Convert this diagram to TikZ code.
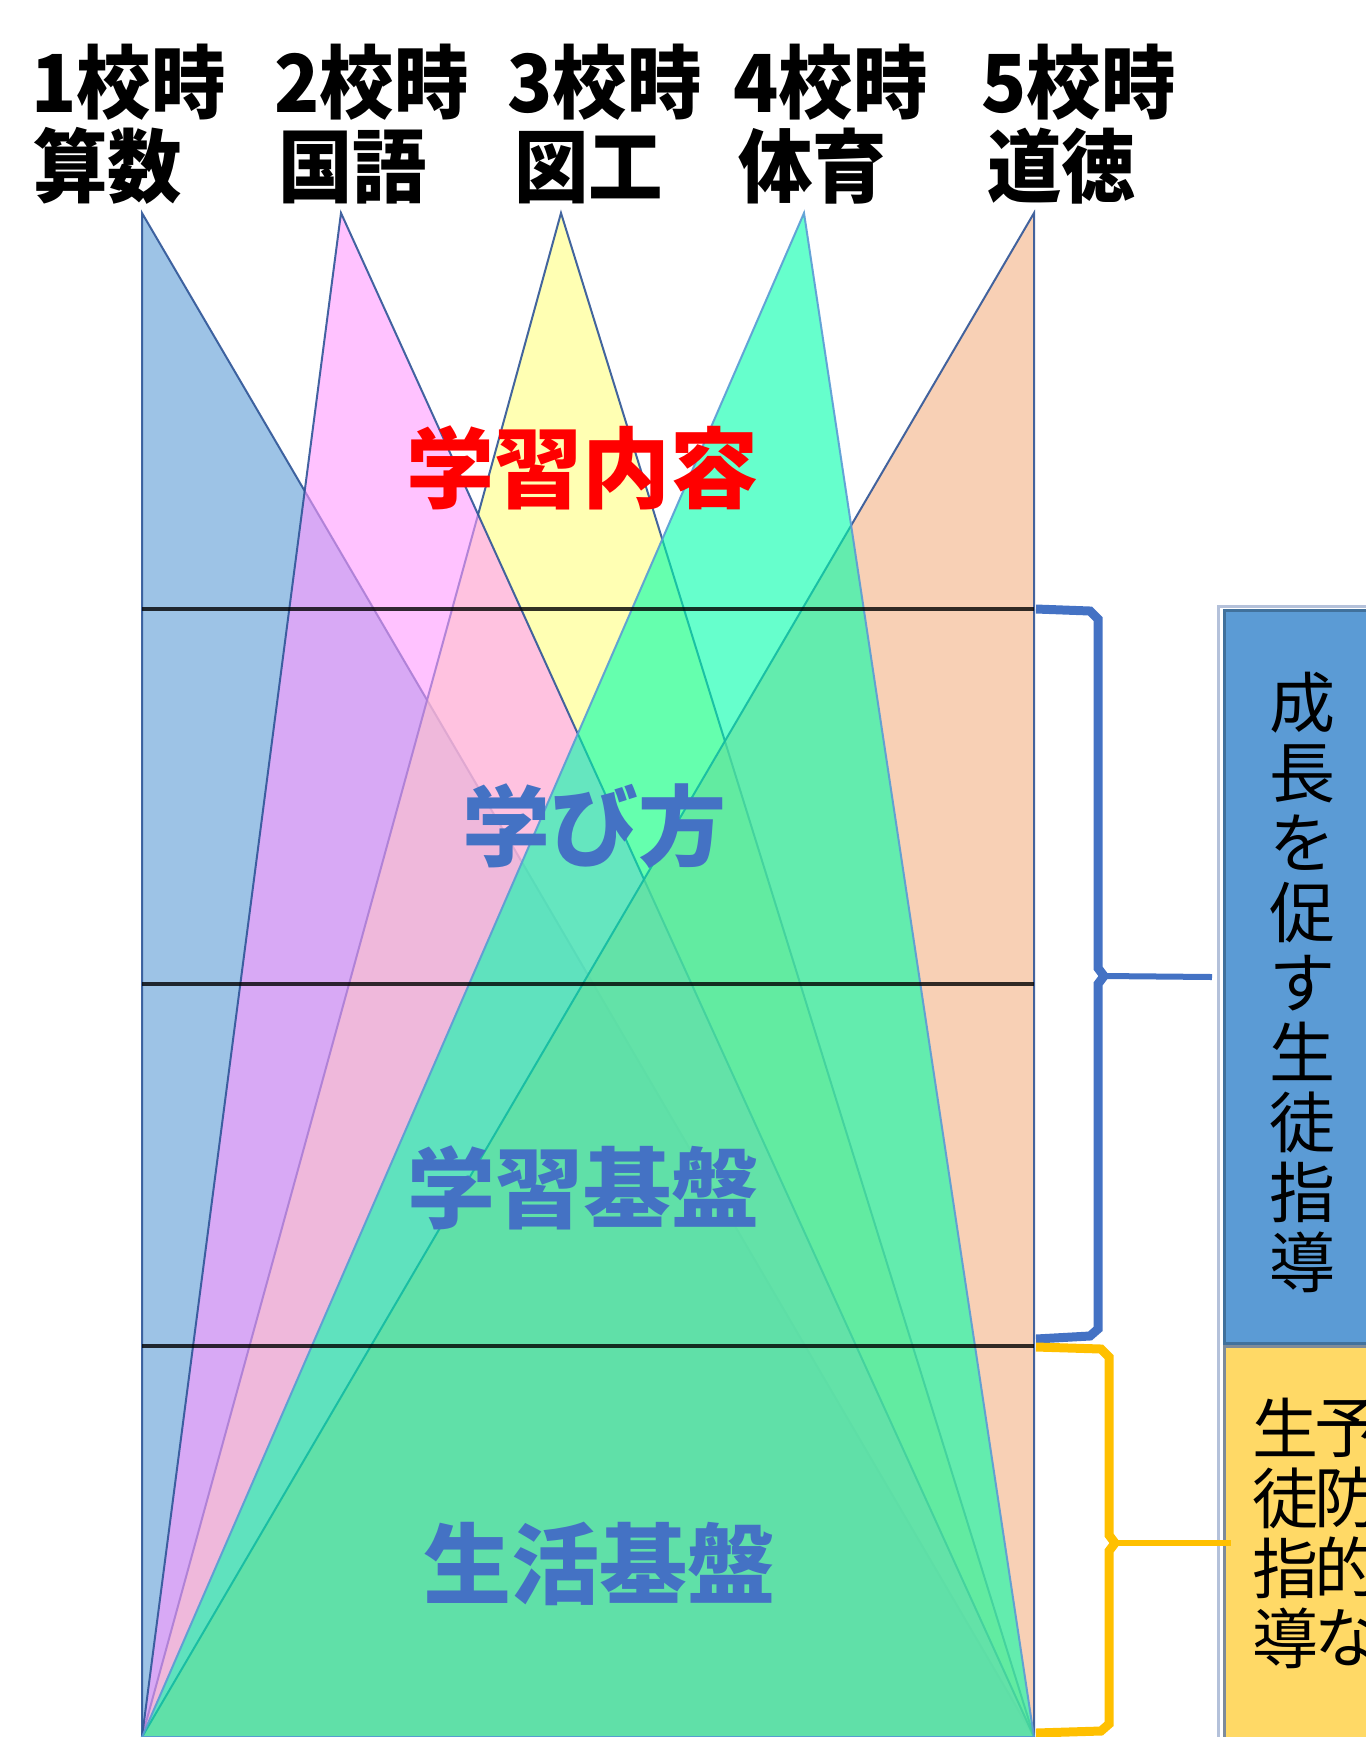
\documentclass[tikz,border=0pt]{standalone}
\usepackage{fontspec}
\newfontfamily\jp{Noto Sans CJK JP}
\definecolor{triBlue}{HTML}{5B9BD5}
\definecolor{triPink}{HTML}{FF99FF}
\definecolor{triYellow}{HTML}{FFFF80}
\definecolor{triGreen}{HTML}{00FFAA}
\definecolor{triPeach}{HTML}{F4B183}
\definecolor{edgeDark}{HTML}{2F5597}
\definecolor{edgeLight}{HTML}{5B9BD5}
\definecolor{labBlue}{HTML}{4472C4}
\definecolor{labRed}{HTML}{FF0000}
\definecolor{boxBlue}{HTML}{5B9BD5}
\definecolor{boxBlueEdge}{HTML}{41719C}
\definecolor{boxYellow}{HTML}{FFD966}
\definecolor{boxYellowEdge}{HTML}{7E8B9A}
\definecolor{shadowEdge}{HTML}{B4C1DA}
\definecolor{braceBlue}{HTML}{4472C4}
\definecolor{braceYellow}{HTML}{FFC000}
\tikzset{
  tri/.style={fill opacity=0.6, draw opacity=0.9, line width=1pt, line join=miter},
  toplab/.style={anchor=base west, inner sep=0pt, xscale=0.93, font=\jp\bfseries\fontsize{40}{42}\selectfont},
  midlab/.style={inner sep=0pt, font=\jp\bfseries\fontsize{44}{48}\selectfont},
  vtext/.style={inner sep=0pt, align=center, font=\jp\fontsize{33}{35}\selectfont},
  layerline/.style={draw=black, draw opacity=0.8, line width=1.75pt},
  bracebl/.style={draw=braceBlue, line width=4.5pt, line join=miter},
  braceyl/.style={draw=braceYellow, line width=4.5pt, line join=miter},
  bracetipb/.style={draw=braceBlue, line width=3pt},
  bracetipy/.style={draw=braceYellow, line width=3pt}
}
\begin{document}
\begin{tikzpicture}[x=0.5pt,y=-0.5pt]
\useasboundingbox (0,0) rectangle (1366,1737);
\clip (0,0) rectangle (1366,1737);

% apexes and base corners
\coordinate (A1) at (142,213);
\coordinate (A2) at (341,213);
\coordinate (A3) at (561,213);
\coordinate (A4) at (804,213);
\coordinate (A5) at (1034,213);
\coordinate (BL) at (142,1737);
\coordinate (BR) at (1034,1737);

% triangles (drawing order chosen to reproduce overlaps)
\filldraw[tri, fill=triBlue, draw=edgeDark] (A1) -- (BL) -- (BR) -- cycle;
\filldraw[tri, fill=triYellow, draw=edgeDark] (A3) -- (BL) -- (BR) -- cycle;
\filldraw[tri, fill=triPink, draw=edgeDark] (A2) -- (BL) -- (BR) -- cycle;
\filldraw[tri, fill=triPeach, draw=edgeDark] (A5) -- (BR) -- (BL) -- cycle;
\filldraw[tri, fill=triGreen, draw=edgeLight] (A4) -- (BL) -- (BR) -- cycle;

% layer lines
\coordinate (L1l) at (142,609);  \coordinate (L1r) at (1034,609);
\coordinate (L2l) at (142,984);  \coordinate (L2r) at (1034,984);
\coordinate (L3l) at (142,1346); \coordinate (L3r) at (1034,1346);
\draw[layerline] (L1l) -- (L1r);
\draw[layerline] (L2l) -- (L2r);
\draw[layerline] (L3l) -- (L3r);

% top labels
\node[toplab] (t1a) at (31,112) {1校時};
\node[toplab] (t1b) at (33,196) {算数};
\node[toplab] (t2a) at (274,112) {2校時};
\node[toplab] (t2b) at (278,196) {国語};
\node[toplab] (t3a) at (507,112) {3校時};
\node[toplab] (t3b) at (514,196) {図工};
\node[toplab] (t4a) at (733,112) {4校時};
\node[toplab] (t4b) at (738,196) {体育};
\node[toplab] (t5a) at (981,112) {5校時};
\node[toplab] (t5b) at (987,196) {道徳};

% layer labels
\node[midlab, text=labRed] (m1) at (582,468) {学習内容};
\node[midlab, text=labBlue] (m2) at (594,826) {学び方};
\node[midlab, text=labBlue] (m3) at (583,1188) {学習基盤};
\node[midlab, text=labBlue] (m4) at (599,1564) {生活基盤};

% right boxes
\draw[shadowEdge, line width=1.5pt] (1218,1737) -- (1218,606) -- (1366,606);
\filldraw[fill=boxYellow, draw=boxYellowEdge, line width=1.5pt] (1224,1346) rectangle (1400,1760);
\filldraw[fill=boxBlue, draw=boxBlueEdge, line width=1.5pt] (1224,610) rectangle (1400,1343);

\node[vtext] (vb) at (1302,982) {成\\長\\を\\促\\す\\生\\徒\\指\\導};
\node[vtext] (vy1) at (1347,1533) {予\\防\\的\\な};
\node[vtext] (vy2) at (1285,1533) {生\\徒\\指\\導};

% braces
\coordinate (bbTop) at (1036,609);
\coordinate (bbBot) at (1036,1339);
\coordinate (bbMid) at (1104,976);
\coordinate (bbTip) at (1212,977);
\draw[bracebl] (bbTop) -- (1090,611) -- (1098,619) -- (1098,968) -- (bbMid);
\draw[bracebl] (bbMid) -- (1098,984) -- (1098,1329) -- (1090,1336) -- (bbBot);
\draw[bracetipb] (bbMid) -- (bbTip);

\coordinate (ybTop) at (1036,1347);
\coordinate (ybBot) at (1036,1733);
\coordinate (ybMid) at (1115,1543);
\coordinate (ybTip) at (1231,1543);
\draw[braceyl] (ybTop) -- (1101,1349) -- (1109,1357) -- (1109,1535) -- (ybMid);
\draw[braceyl] (ybMid) -- (1109,1551) -- (1109,1724) -- (1101,1731) -- (ybBot);
\draw[bracetipy] (ybMid) -- (ybTip);
\end{tikzpicture}
\end{document}
